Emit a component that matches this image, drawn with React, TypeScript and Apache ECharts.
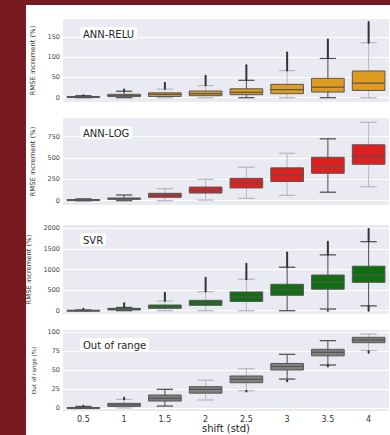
import React, { useEffect, useRef } from "react";
import * as echarts from "echarts";

const FONT = "DejaVu Sans";

const categories = ["0.5", "1", "1.5", "2", "2.5", "3", "3.5", "4"];

// [low whisker, q1, median, q3, high whisker]
const reluStats = [
  [0, 0.5, 1.5, 3, 5],
  [0, 2.5, 5, 8.5, 16],
  [0, 3, 8, 12, 21],
  [0, 5, 10, 16.5, 30],
  [0, 7.5, 13, 22, 43],
  [0, 10, 20, 33, 67],
  [0, 14, 26, 48, 97],
  [0, 18, 36, 66, 136],
];
const reluOutHigh = [[5, 6], [16, 20], [22, 37], [31, 54], [44, 80], [67, 112], [98, 144], [136, 187]];
const reluOutLow = [null, null, null, null, null, null, null, null];
const reluTone = [1, 1, 0, 0, 1, 0, 1, 0];

const logStats = [
  [0, 2, 6, 14, 22],
  [0, 16, 25, 32, 67],
  [0, 40, 62, 87, 141],
  [8, 90, 122, 160, 251],
  [28, 150, 205, 262, 392],
  [63, 225, 300, 385, 556],
  [100, 321, 402, 509, 725],
  [164, 427, 522, 655, 919],
];
const logOutHigh = [null, null, null, null, null, null, null, null];
const logOutLow = [null, null, null, null, null, null, null, null];
const logTone = [1, 1, 0, 0, 0, 0, 1, 0];

const svrStats = [
  [0, 0, 5, 12, 20],
  [0, 17, 35, 58, 80],
  [0, 58, 90, 138, 235],
  [0, 131, 187, 252, 461],
  [0, 225, 335, 455, 762],
  [0, 374, 502, 641, 1055],
  [41, 522, 700, 866, 1355],
  [118, 689, 859, 1080, 1675],
];
const svrOutHigh = [[20, 45], [80, 180], [240, 437], [465, 801], [765, 1140], [1060, 1410], [1360, 1675], [1680, 1980]];
const svrOutLow = [null, null, null, null, null, null, [0, 3], [0, 110]];
const svrTone = [1, 1, 0, 0, 0, 1, 1, 1];

const oorStats = [
  [0, 0, 0.5, 1, 2.5],
  [0.5, 2.6, 4.5, 6.6, 11.8],
  [3, 9.6, 13, 17.5, 25],
  [11, 20, 25, 28.5, 37],
  [23, 33.7, 38, 42.5, 52],
  [38.5, 50.4, 55, 59, 71],
  [57, 69, 73.5, 77.6, 89],
  [76, 86.3, 90, 93.4, 97.7],
];
const oorOutHigh = [[2.5, 3.5], [12, 14], null, null, null, null, null, null];
const oorOutLow = [null, null, null, null, [22, 23], [35.5, 37], [55, 56.5], [73, 75]];
const oorTone = [1, 0, 1, 0, 0, 1, 1, 0];

const reluTicks = [0, 50, 100, 150];
const logTicks = [0, 250, 500, 750];
const svrTicks = [0, 500, 1000, 1500, 2000];
const oorTicks = [0, 25, 50, 75, 100];

const panels = [
  { title: "ANN-RELU", stats: reluStats, hi: reluOutHigh, lo: reluOutLow, tone: reluTone, ticks: reluTicks, min: -10.6, max: 194.5, fill: "#DF9C20", yName: "RMSE increment (%)" },
  { title: "ANN-LOG", stats: logStats, hi: logOutHigh, lo: logOutLow, tone: logTone, ticks: logTicks, min: -50, max: 969, fill: "#DF2020", yName: "RMSE increment (%)" },
  { title: "SVR", stats: svrStats, hi: svrOutHigh, lo: svrOutLow, tone: svrTone, ticks: svrTicks, min: -80, max: 2080, fill: "#107010", yName: "RMSE increment (%)" },
  { title: "Out of range", stats: oorStats, hi: oorOutHigh, lo: oorOutLow, tone: oorTone, ticks: oorTicks, min: -3.5, max: 103, fill: "#808080", yName: "Out of range (%)" },
];

const gridBoxes = [
  { top: 19, height: 83, titleTop: 27, nameGap: 19, nameSize: 6.8 },
  { top: 118, height: 87, titleTop: 126, nameGap: 21, nameSize: 6.8 },
  { top: 225, height: 89, titleTop: 233, nameGap: 24, nameSize: 6.8 },
  { top: 330, height: 81, titleTop: 338, nameGap: 19.5, nameSize: 5.7 },
];

function makeRenderer(p: any) {
  return (params: any, api: any) => {
    const j = api.value(0);
    const lo = api.value(1), q1 = api.value(2), md = api.value(3), q3 = api.value(4), hi = api.value(5);
    const bw = api.size([1, 0])[0];
    const cx = api.coord([j, md])[0];
    const y = (v: number) => api.coord([j, v])[1];
    const half = bw * 0.4;
    const capHalf = bw * 0.2;
    const wc = p.tone[j] ? "#4a4a4a" : "#b6b6be";
    const edge = "#555555";
    const children: any[] = [];
    children.push({ type: "line", shape: { x1: cx, y1: y(lo), x2: cx, y2: y(q1) }, style: { stroke: wc, lineWidth: 1 } });
    children.push({ type: "line", shape: { x1: cx, y1: y(q3), x2: cx, y2: y(hi) }, style: { stroke: wc, lineWidth: 1 } });
    children.push({ type: "line", shape: { x1: cx - capHalf, y1: y(hi), x2: cx + capHalf, y2: y(hi) }, style: { stroke: wc, lineWidth: 1.2 } });
    children.push({ type: "line", shape: { x1: cx - capHalf, y1: y(lo), x2: cx + capHalf, y2: y(lo) }, style: { stroke: wc, lineWidth: 1.2 } });
    const oh = p.hi[j];
    if (oh) {
      children.push({ type: "line", shape: { x1: cx, y1: y(oh[0]), x2: cx, y2: y(oh[1]) }, style: { stroke: "#333333", lineWidth: 2, lineCap: "round" } });
    }
    const ol = p.lo[j];
    if (ol) {
      children.push({ type: "line", shape: { x1: cx, y1: y(ol[0]), x2: cx, y2: y(ol[1]) }, style: { stroke: "#333333", lineWidth: 2, lineCap: "round" } });
    }
    const yTop = y(q3), yBot = y(q1);
    children.push({ type: "rect", shape: { x: cx - half, y: yTop, width: half * 2, height: Math.max(yBot - yTop, 1) }, style: { fill: p.fill, stroke: edge, lineWidth: 1 } });
    children.push({ type: "line", shape: { x1: cx - half, y1: y(md), x2: cx + half, y2: y(md) }, style: { stroke: edge, lineWidth: 1.2 } });
    return { type: "group", children };
  };
}

export default function App() {
  const ref = useRef<HTMLDivElement>(null);
  useEffect(() => {
    if (!ref.current) return;
    const chart = echarts.init(ref.current, undefined, { renderer: "svg" });
    const option: any = {
      animation: false,
      textStyle: { fontFamily: FONT },
      title: panels.map((p, i) => ({
        text: p.title,
        left: 80,
        top: gridBoxes[i].titleTop,
        backgroundColor: "#ffffff",
        borderRadius: 3,
        padding: [2, 3, 1, 3],
        textStyle: { fontSize: 10, fontWeight: "normal", color: "#262626", fontFamily: FONT },
      })),
      grid: gridBoxes.map((g) => ({
        left: 63,
        right: 1,
        top: g.top,
        height: g.height,
        show: true,
        backgroundColor: "#EAEAF2",
        borderWidth: 0,
      })),
      xAxis: panels.map((p, i) => ({
        type: "category",
        gridIndex: i,
        data: categories,
        axisLine: { show: false },
        axisTick: { show: false },
        splitLine: { show: false },
        axisLabel: { show: i === 3, fontSize: 8, color: "#333", margin: 4, fontFamily: FONT },
        name: i === 3 ? "shift (std)" : "",
        nameLocation: "middle",
        nameGap: 12,
        nameTextStyle: { fontSize: 10, color: "#262626", fontFamily: FONT },
      })),
      yAxis: panels.map((p, i) => ({
        type: "value",
        gridIndex: i,
        min: p.min,
        max: p.max,
        name: p.yName,
        nameLocation: "middle",
        nameRotate: 90,
        nameGap: gridBoxes[i].nameGap,
        nameTextStyle: { fontSize: gridBoxes[i].nameSize, color: "#333", fontFamily: FONT },
        axisLine: { show: false },
        axisTick: { show: false, customValues: p.ticks },
        axisLabel: {
          customValues: p.ticks,
          formatter: (v: number) => String(v),
          fontSize: 6.5,
          color: "#444",
          margin: 3,
          fontFamily: FONT,
        },
        splitLine: { show: true, lineStyle: { color: "#ffffff", width: 1 } },
      })),
      series: panels.map((p, i) => ({
        type: "custom",
        xAxisIndex: i,
        yAxisIndex: i,
        data: p.stats.map((s, j) => [j, ...s]),
        encode: { x: 0, y: [1, 2, 3, 4, 5] },
        renderItem: makeRenderer(p),
      })),
    };
    chart.setOption(option);
    return () => chart.dispose();
  }, []);
  return (
    <div style={{ position: "fixed", left: 0, top: 0, width: 390, height: 435, background: "#771a22" }}>
      <div style={{ position: "absolute", left: 26, top: 5, width: 364, height: 430, background: "#ffffff" }} />
      <div ref={ref} style={{ position: "absolute", left: 0, top: 0, width: 390, height: 435 }} />
    </div>
  );
}
